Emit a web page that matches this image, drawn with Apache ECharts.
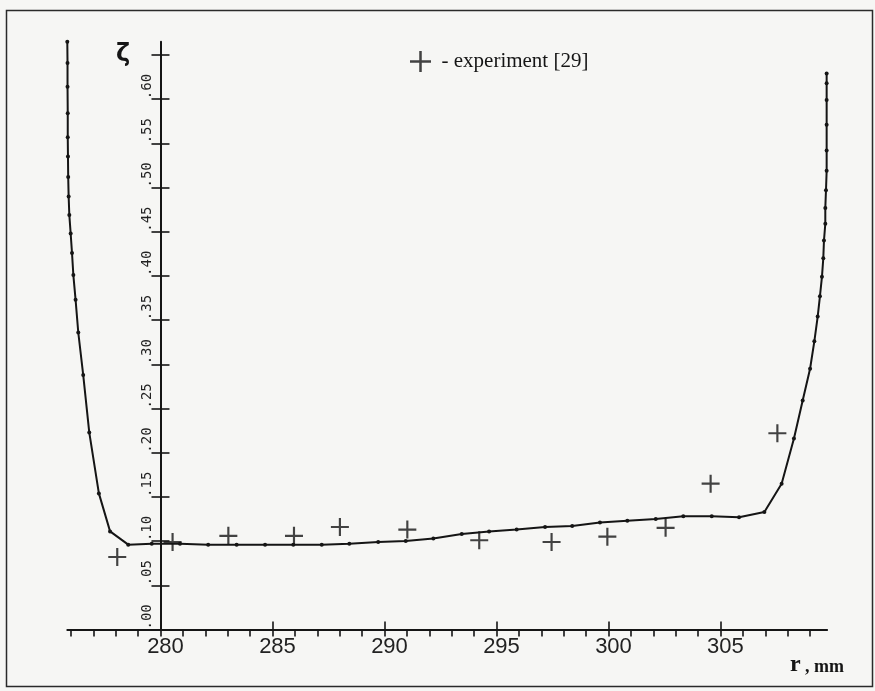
<!DOCTYPE html>
<html>
<head>
<meta charset="utf-8">
<script src="https://cdn.jsdelivr.net/npm/echarts@6/dist/echarts.min.js"></script>
<style>
html, body { margin: 0; padding: 0; background: #f6f6f4; }
#chart { width: 875px; height: 691px; }
</style>
</head>
<body>
<div id="chart"></div>
<script>
// Computed loss-coefficient profile: radius r (mm) and zeta
const rCalc = [
  275.84, 275.85, 275.85, 275.86, 275.86, 275.87, 275.88, 275.90, 275.93,
  275.99, 276.05, 276.11, 276.21, 276.33, 276.55, 276.82, 277.25, 277.75,
  278.56, 279.61, 280.87, 282.13, 283.40, 284.67, 285.93, 287.20, 288.43,
  289.72, 290.95, 292.18, 293.45, 294.67, 295.90, 297.17, 298.38, 299.62,
  300.84, 302.11, 303.34, 304.61, 305.83, 306.96, 307.73, 308.28, 308.67,
  309.00, 309.19, 309.34, 309.44, 309.53, 309.59, 309.62, 309.68, 309.68,
  309.71, 309.74, 309.74, 309.74, 309.74, 309.74, 309.74
];
const zetaCalc = [
  0.665, 0.641, 0.614, 0.584, 0.557, 0.535, 0.512, 0.490, 0.469,
  0.448, 0.426, 0.401, 0.373, 0.336, 0.288, 0.223, 0.154, 0.111,
  0.096, 0.097, 0.097, 0.096, 0.096, 0.096, 0.096, 0.096, 0.097,
  0.099, 0.100, 0.103, 0.108, 0.111, 0.113, 0.116, 0.117, 0.121,
  0.123, 0.125, 0.128, 0.128, 0.127, 0.133, 0.165, 0.216, 0.259,
  0.295, 0.326, 0.354, 0.377, 0.399, 0.420, 0.440, 0.459, 0.477,
  0.497, 0.519, 0.542, 0.571, 0.599, 0.618, 0.629
];

// Measured values, experiment [29]
const rExp = [278.07, 280.54, 283.03, 285.96, 288.01, 291.02, 294.23, 297.46, 299.95, 302.55, 304.56, 307.54];
const zetaExp = [0.082, 0.099, 0.106, 0.106, 0.116, 0.113, 0.101, 0.099, 0.105, 0.115, 0.165, 0.222];

// Axis ticks
const rLabelTicks = [280, 285, 290, 295, 300, 305];
const rMinorTicks = [276, 277, 278, 279, 280, 281, 282, 283, 284, 285, 286, 287, 288, 289, 290,
  291, 292, 293, 294, 295, 296, 297, 298, 299, 300, 301, 302, 303, 304, 305, 306, 307, 308, 309];
const zetaTicks = [0, 0.05, 0.10, 0.15, 0.20, 0.25, 0.30, 0.35, 0.40, 0.45, 0.50, 0.55, 0.60, 0.65];
const zetaLabelTicks = [0, 0.05, 0.10, 0.15, 0.20, 0.25, 0.30, 0.35, 0.40, 0.45, 0.50, 0.55, 0.60];

// The zeta axis stands at r = R0
const R0 = 280;
const rRange = [275.84, 309.76];
const zetaRange = [0, 0.665];

const calcData = rCalc.map((r, i) => [r, zetaCalc[i]]);
const expData = rExp.map((r, i) => [r, zetaExp[i]]);

const plusPath = 'path://M8.8,0h2.4v8.8h8.8v2.4h-8.8v8.8h-2.4v-8.8h-8.8v-2.4h8.8z';
const ink = '#151515';

const W = 875;
const gridLeft = 67.3, gridRight = 47.9;
const gridWidth = W - gridLeft - gridRight;
// shift the zeta axis from the grid's left edge to r = R0
const zetaAxisOffset = -((R0 - rRange[0]) / (rRange[1] - rRange[0])) * gridWidth;

const xBase = {
  type: 'value',
  position: 'bottom',
  min: rRange[0],
  max: rRange[1],
  splitLine: { show: false }
};
const yBase = {
  type: 'value',
  position: 'left',
  offset: zetaAxisOffset,
  min: zetaRange[0],
  max: zetaRange[1],
  splitLine: { show: false }
};

const chart = echarts.init(document.getElementById('chart'), null, { renderer: 'canvas' });
chart.setOption({
  animation: false,
  backgroundColor: '#f6f6f4',
  grid: { left: gridLeft, right: gridRight, top: 41.7, bottom: 61.5, containLabel: false },
  legend: {
    left: 410, top: 51, padding: 0,
    itemWidth: 26, itemHeight: 21, itemGap: 10,
    icon: plusPath,
    data: ['- experiment [29]'],
    textStyle: { fontFamily: 'Liberation Serif', fontSize: 21, color: ink, padding: [0, 0, 0, 3] }
  },
  xAxis: [
    Object.assign({}, xBase, {
      axisLine: { onZero: false, lineStyle: { color: ink, width: 2 } },
      axisTick: { show: true, inside: false, length: 7, lineStyle: { color: ink, width: 1.6 },
        customValues: rMinorTicks },
      axisLabel: {
        show: true, margin: 6, customValues: rLabelTicks,
        formatter: v => String(Math.round(v)),
        fontFamily: 'Liberation Sans', fontSize: 22, color: '#222', padding: [0, 0, 0, 10]
      }
    }),
    Object.assign({}, xBase, {
      axisLine: { show: false, onZero: false },
      axisTick: { show: true, inside: true, length: 8, lineStyle: { color: ink, width: 1.6 },
        customValues: rLabelTicks },
      axisLabel: { show: false }
    })
  ],
  yAxis: [
    Object.assign({}, yBase, {
      axisLine: { onZero: false, lineStyle: { color: ink, width: 2 } },
      axisTick: { show: true, inside: false, length: 9, lineStyle: { color: ink, width: 1.6 },
        customValues: zetaTicks },
      axisLabel: {
        show: true, margin: 6, rotate: 90, align: 'left', verticalAlign: 'bottom',
        customValues: zetaLabelTicks,
        formatter: v => '.' + String(Math.round(v * 100)).padStart(2, '0'),
        fontFamily: 'DejaVu Sans Mono', fontSize: 14, color: '#222'
      }
    }),
    Object.assign({}, yBase, {
      axisLine: { show: false, onZero: false },
      axisTick: { show: true, inside: true, length: 9, lineStyle: { color: ink, width: 1.6 },
        customValues: zetaTicks },
      axisLabel: { show: false }
    })
  ],
  series: [
    {
      name: 'calculation',
      type: 'line',
      xAxisIndex: 0, yAxisIndex: 0,
      data: calcData,
      clip: false,
      showSymbol: true, showAllSymbol: true,
      symbol: 'circle', symbolSize: 4,
      color: ink,
      lineStyle: { color: ink, width: 2 },
      itemStyle: { color: ink },
      emphasis: { disabled: true }
    },
    {
      name: '- experiment [29]',
      type: 'scatter',
      xAxisIndex: 0, yAxisIndex: 0,
      data: expData,
      symbol: plusPath,
      symbolSize: 18,
      color: ink,
      itemStyle: { color: ink },
      emphasis: { disabled: true }
    }
  ],
  graphic: [
    {
      type: 'rect', silent: true, z: -1,
      shape: { x: 6.5, y: 10.5, width: 866, height: 676 },
      style: { fill: 'none', stroke: '#2a2a2a', lineWidth: 1.5 }
    },
    {
      type: 'text', silent: true, x: 123, y: 55,
      style: { text: 'ζ', font: 'bold 24px "DejaVu Sans"', fill: ink, align: 'center', verticalAlign: 'middle' }
    },
    {
      type: 'text', silent: true, x: 790, y: 664.5,
      style: { text: 'r', font: 'bold 24px "Liberation Serif"', fill: ink, align: 'left', verticalAlign: 'middle' }
    },
    {
      type: 'text', silent: true, x: 805, y: 667,
      style: { text: ', mm', font: 'bold 18px "Liberation Serif"', fill: ink, align: 'left', verticalAlign: 'middle' }
    }
  ]
});
</script>
</body>
</html>
